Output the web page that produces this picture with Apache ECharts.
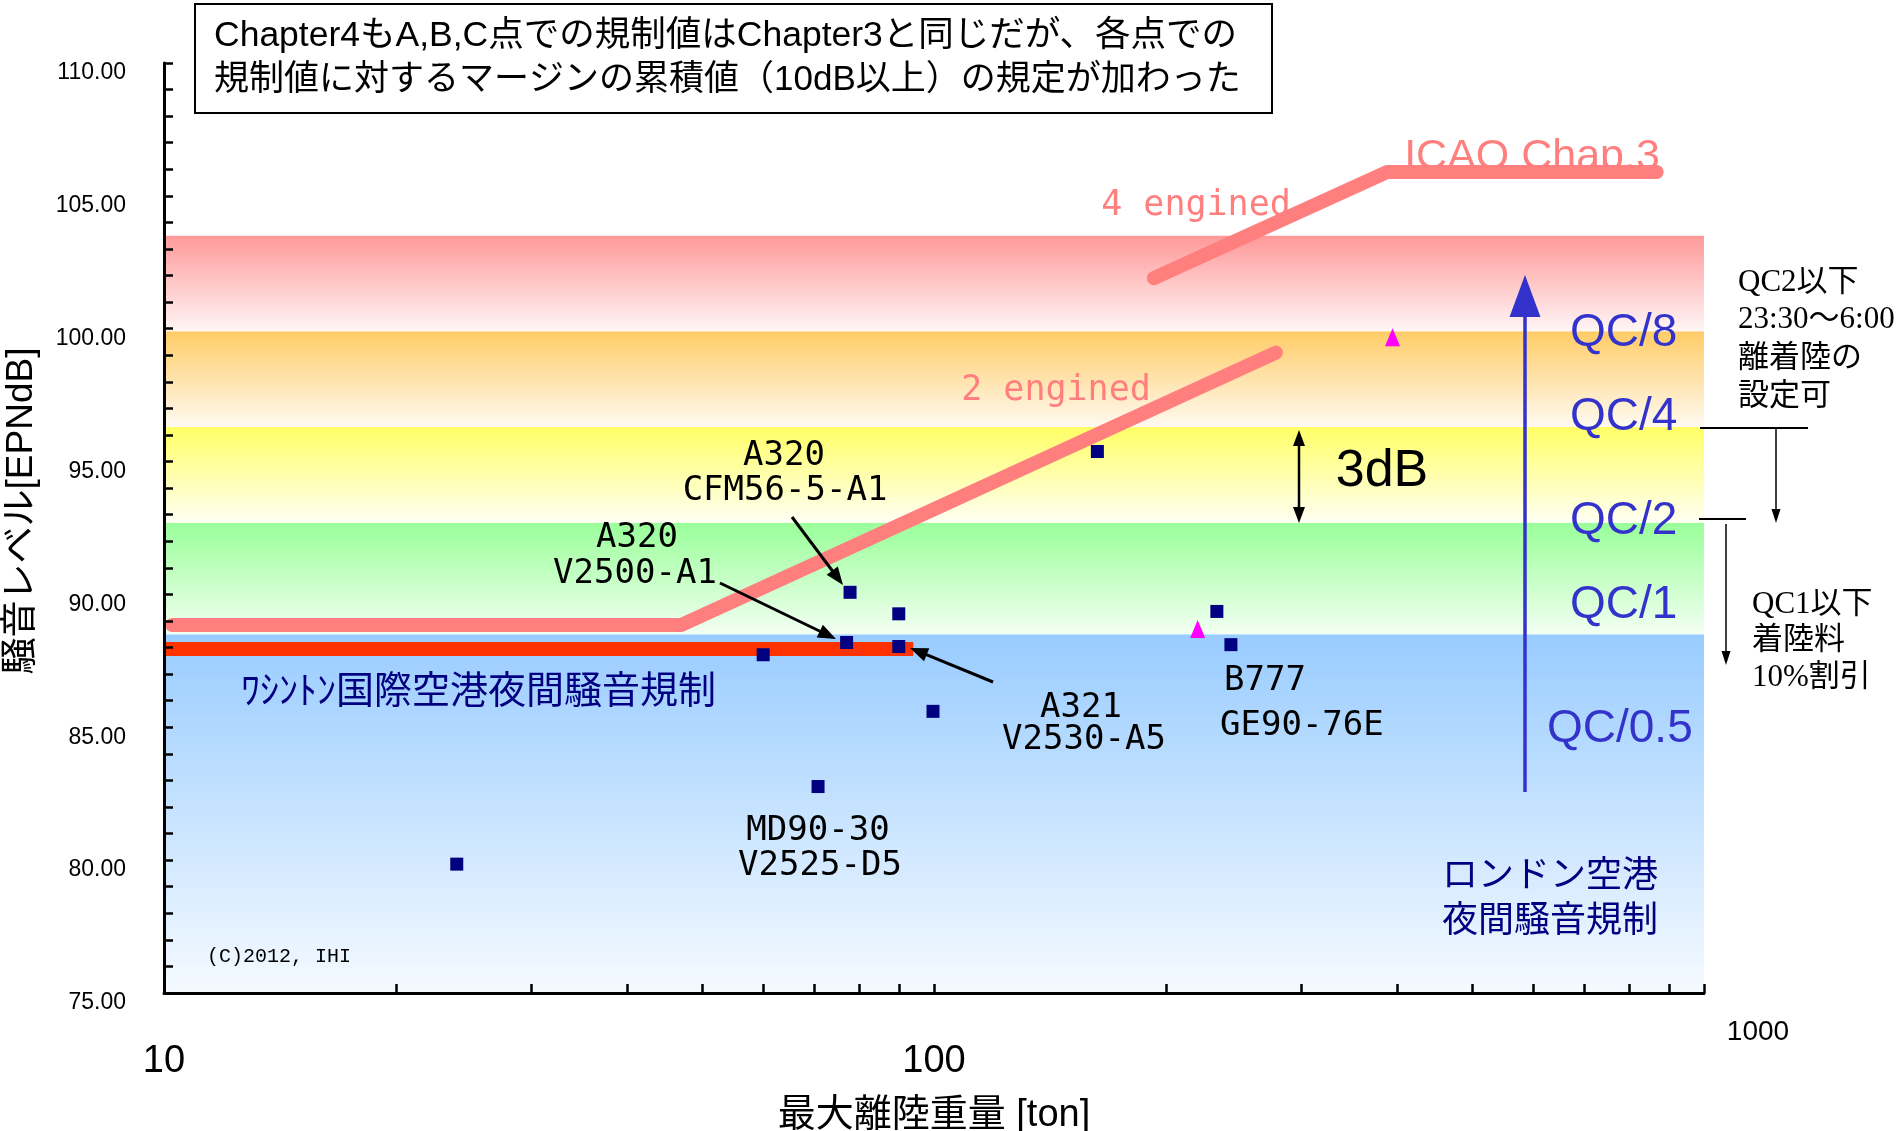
<!DOCTYPE html>
<html>
<head>
<meta charset="utf-8">
<script src="https://cdn.jsdelivr.net/npm/echarts@6/dist/echarts.min.js"></script>
<style>
  html, body { margin: 0; padding: 0; background: #fff; }
  #chart { width: 1901px; height: 1131px; }
</style>
</head>
<body>
<div id="chart"></div>
<script>
// aircraft data (max takeoff weight [ton], noise level [EPNdB])
var acWeight = [24, 60, 70.7, 77, 77.8, 90, 90, 99.7, 163, 233, 243];
var acNoise = [79.85, 87.73, 82.77, 88.19, 90.08, 89.27, 88.04, 85.6, 95.38, 89.36, 88.11];
var triWeight = [220, 394];
var triNoise = [88.7, 99.68];

// ICAO Chapter 3 limits
var twoEngWeight = [10.25, 47, 278];
var twoEngNoise = [88.85, 88.85, 99.1];
var fourEngWeight = [193, 388, 868];
var fourEngNoise = [101.9, 105.9, 105.9];

// Washington night noise limit
var washWeight = [10, 94];
var washNoise = [87.95, 87.95];

// QC bands (London)
var bandEdges = [75, 88.5, 92.7, 96.3, 99.9, 103.5];
var bandTop = ['#99CCFF', '#99FF99', '#FFFF66', '#FFCC66', '#FF9999'];
var bandBottom = ['#F5FAFF', '#F3FFF3', '#FFFFF3', '#FFFAF2', '#FFF6F6'];

var xTickValues = [10, 20, 30, 40, 50, 60, 70, 80, 90, 100, 200, 300, 400, 500, 600, 700, 800, 900, 1000];
var xLabelValues = [10, 100];
var xLabelEnd = [1000];

var CJK = "'Liberation Sans', 'Noto Sans CJK JP'";
var MONO = "'DejaVu Sans Mono', 'Noto Sans CJK JP'";
var SERIF = "'Liberation Serif', 'Noto Sans CJK JP'";

var myChart = echarts.init(document.getElementById('chart'));

var bands = [];
for (var i = 0; i < bandTop.length; i++) {
    bands.push([{
        xAxis: 10, yAxis: bandEdges[i + 1],
        itemStyle: {
            opacity: 1,
            color: {
                type: 'linear', x: 0, y: 0, x2: 0, y2: 1,
                colorStops: [{offset: 0, color: bandTop[i]}, {offset: 1, color: bandBottom[i]}]
            }
        }
    }, {xAxis: 1000, yAxis: bandEdges[i]}]);
}

function pairs(xs, ys) {
    return xs.map(function (x, i) { return [x, ys[i]]; });
}

function txt(s, x, y, font, size, color, align, z) {
    return {
        type: 'text', x: x, y: y, z: z === undefined ? 20 : z,
        style: {
            text: s, fontFamily: font, fontSize: size, fill: color || '#000',
            align: align || 'center', verticalAlign: 'middle'
        }
    };
}

function arrow(x1, y1, x2, y2, color, width, headLen, headW, both) {
    var dx = x2 - x1, dy = y2 - y1, len = Math.sqrt(dx * dx + dy * dy);
    var ux = dx / len, uy = dy / len;
    function head(tx, ty, sx) {
        var bx = tx - sx * ux * headLen, by = ty - sx * uy * headLen;
        return {
            type: 'polygon', z: 20,
            shape: {points: [[tx, ty], [bx - uy * headW / 2, by + ux * headW / 2], [bx + uy * headW / 2, by - ux * headW / 2]]},
            style: {fill: color}
        };
    }
    var sx1 = both ? x1 + ux * headLen * 0.8 : x1, sy1 = both ? y1 + uy * headLen * 0.8 : y1;
    var els = [{
        type: 'line', z: 20,
        shape: {x1: sx1, y1: sy1, x2: x2 - ux * headLen * 0.8, y2: y2 - uy * headLen * 0.8},
        style: {stroke: color, lineWidth: width}
    }, head(x2, y2, 1)];
    if (both) els.push(head(x1, y1, -1));
    return els;
}

var graphics = [
    {type: 'rect', z: 20, shape: {x: 195, y: 4, width: 1077, height: 109}, style: {fill: '#fff', stroke: '#000', lineWidth: 2}},
    txt('Chapter4もA,B,C点での規制値はChapter3と同じだが、各点での', 214, 36, CJK, 35.5, '#000', 'left'),
    txt('規制値に対するマージンの累積値（10dB以上）の規定が加わった', 214, 80, CJK, 35, '#000', 'left'),

    txt('4 engined', 1196, 206, MONO, 35, '#FF7F7F', 'center', 2),
    txt('2 engined', 1056, 391, MONO, 35, '#FF7F7F', 'center', 2),
    txt('ICAO Chap.3', 1532, 157, CJK, 43, '#FF7F7F', 'center', 2),

    txt('A320', 784, 456, MONO, 34),
    txt('CFM56-5-A1', 785, 491, MONO, 34),
    txt('A320', 637, 538, MONO, 34),
    txt('V2500-A1', 635, 574, MONO, 34),
    txt('A321', 1081, 708, MONO, 34),
    txt('V2530-A5', 1084, 740, MONO, 34),
    txt('B777', 1224, 681, MONO, 34, '#000', 'left'),
    txt('GE90-76E', 1220, 726, MONO, 34, '#000', 'left'),
    txt('MD90-30', 818, 831, MONO, 34),
    txt('V2525-D5', 820, 866, MONO, 34),
    txt('(C)2012, IHI', 207, 957, "'Liberation Mono'", 20, '#000', 'left'),

    txt('ﾜｼﾝﾄﾝ国際空港夜間騒音規制', 241, 693, CJK, 38, '#000080', 'left'),
    txt('ロンドン空港', 1442, 877, CJK, 36, '#000080', 'left'),
    txt('夜間騒音規制', 1442, 922, CJK, 36, '#000080', 'left'),

    txt('QC/8', 1570, 333, CJK, 46, '#3333CC', 'left'),
    txt('QC/4', 1570, 417, CJK, 46, '#3333CC', 'left'),
    txt('QC/2', 1570, 521, CJK, 46, '#3333CC', 'left'),
    txt('QC/1', 1570, 605, CJK, 46, '#3333CC', 'left'),
    txt('QC/0.5', 1547, 729, CJK, 46, '#3333CC', 'left'),

    txt('3dB', 1382, 472, CJK, 52),

    txt('QC2以下', 1738, 283, SERIF, 31, '#000', 'left'),
    txt('23:30～6:00', 1738, 320, SERIF, 31, '#000', 'left'),
    txt('離着陸の', 1738, 359, SERIF, 31, '#000', 'left'),
    txt('設定可', 1738, 397, SERIF, 31, '#000', 'left'),
    txt('QC1以下', 1752, 605, SERIF, 31, '#000', 'left'),
    txt('着陸料', 1752, 641, SERIF, 31, '#000', 'left'),
    txt('10%割引', 1752, 678, SERIF, 31, '#000', 'left'),

    {type: 'line', z: 20, shape: {x1: 1700, y1: 428, x2: 1808, y2: 428}, style: {stroke: '#000', lineWidth: 2}},
    {type: 'line', z: 20, shape: {x1: 1699, y1: 519, x2: 1746, y2: 519}, style: {stroke: '#000', lineWidth: 2}}
];

graphics = graphics
    .concat(arrow(792, 517, 843, 585, '#000', 3, 18, 14))
    .concat(arrow(720, 583, 836, 639, '#000', 3, 18, 14))
    .concat(arrow(993, 682, 910, 648, '#000', 3, 18, 14))
    .concat(arrow(1299, 430, 1299, 523, '#000', 2.5, 16, 12, true))
    .concat(arrow(1776, 428, 1776, 523, '#000', 1.5, 14, 9))
    .concat(arrow(1726, 524, 1726, 665, '#000', 1.5, 14, 9))
    .concat(arrow(1525, 792, 1525, 275, '#3333CC', 3.5, 42, 31));

var option = {
    animation: false,
    grid: {left: 164, top: 63, right: 197, bottom: 138, outerBoundsMode: 'none', containLabel: false},
    xAxis: [{
        type: 'log',
        logBase: 10,
        min: 10,
        max: 1000,
        z: 10,
        name: '最大離陸重量 [ton]',
        nameLocation: 'middle',
        nameGap: 104,
        nameTextStyle: {fontFamily: CJK, fontSize: 38, color: '#000'},
        axisLine: {lineStyle: {color: '#000', width: 3}},
        axisTick: {inside: true, length: 9, lineStyle: {color: '#000', width: 2.5}, customValues: xTickValues},
        axisLabel: {
            customValues: xLabelValues, fontFamily: CJK, fontSize: 38, color: '#000', margin: 50,
            formatter: function (v) { return String(Math.round(v)); }
        },
        splitLine: {show: false},
        minorTick: {show: false}
    }, {
        type: 'log',
        logBase: 10,
        min: 10,
        max: 1000,
        z: 10,
        position: 'bottom',
        axisLine: {show: false},
        axisTick: {show: false},
        axisLabel: {
            customValues: xLabelEnd, fontFamily: CJK, fontSize: 28, color: '#000', margin: 25,
            padding: [0, 0, 0, 108],
            formatter: function (v) { return String(Math.round(v)); }
        },
        splitLine: {show: false}
    }],
    yAxis: {
        type: 'value',
        min: 75,
        max: 110,
        interval: 1,
        z: 10,
        name: '騒音レベル[EPNdB]',
        nameLocation: 'middle',
        nameRotate: 90,
        nameGap: 124,
        nameTextStyle: {fontFamily: CJK, fontSize: 37, color: '#000', padding: [0, 0, 0, 34]},
        axisLine: {show: true, lineStyle: {color: '#000', width: 3}},
        axisTick: {show: true, inside: true, length: 9, lineStyle: {color: '#000', width: 2.5}},
        axisLabel: {
            fontFamily: "'Liberation Sans'", fontSize: 23, color: '#000', margin: 38,
            verticalAlign: 'top', lineHeight: 20,
            formatter: function (v) { return v % 5 === 0 ? v.toFixed(2) : ''; }
        },
        splitLine: {show: false}
    },
    series: [{
        name: 'bands',
        type: 'line',
        z: 1,
        data: [],
        markArea: {silent: true, data: bands}
    }, {
        name: 'Washington',
        type: 'line',
        z: 3,
        symbol: 'none',
        data: pairs(washWeight, washNoise),
        lineStyle: {color: '#FF3300', width: 14, cap: 'butt'}
    }, {
        name: '2 engined',
        type: 'line',
        z: 3,
        symbol: 'none',
        clip: false,
        data: pairs(twoEngWeight, twoEngNoise),
        lineStyle: {color: '#FF7F7F', width: 14, cap: 'round', join: 'round'}
    }, {
        name: '4 engined',
        type: 'line',
        z: 3,
        symbol: 'none',
        clip: false,
        data: pairs(fourEngWeight, fourEngNoise),
        lineStyle: {color: '#FF7F7F', width: 14, cap: 'round', join: 'round'}
    }, {
        name: 'aircraft',
        type: 'scatter',
        z: 5,
        symbol: 'rect',
        symbolSize: 13,
        itemStyle: {color: '#000080', opacity: 1},
        data: pairs(acWeight, acNoise)
    }, {
        name: 'other',
        type: 'scatter',
        z: 5,
        symbol: 'triangle',
        symbolSize: [15, 18],
        itemStyle: {color: '#FF00FF', opacity: 1},
        data: pairs(triWeight, triNoise)
    }],
    graphic: {elements: graphics}
};

myChart.setOption(option);
</script>
</body>
</html>
